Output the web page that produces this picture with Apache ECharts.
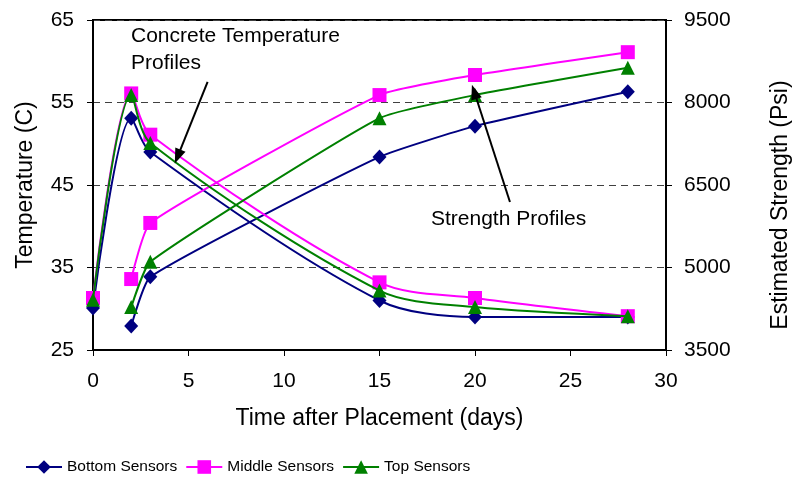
<!DOCTYPE html>
<html>
<head>
<meta charset="utf-8">
<script src="https://cdn.jsdelivr.net/npm/echarts@6/dist/echarts.min.js"></script>
<style>
html,body{margin:0;padding:0;background:#fff;}
#chart{width:796px;height:483px;}
</style>
</head>
<body>
<div id="chart"></div>
<script>
// ---- Data ----
var tempDays = [0, 2, 3, 15, 20, 28];
var bottomTemp = [30.1, 53.1, 49.0, 31.0, 29.0, 29.0];
var middleTemp = [31.3, 56.1, 51.1, 33.2, 31.3, 29.1];
var topTemp    = [31.1, 55.9, 50.1, 32.2, 30.2, 29.1];

var strengthDays = [2, 3, 15, 20, 28];
var bottomStrength = [3935, 4830, 7010, 7570, 8195];
var middleStrength = [4790, 5810, 8135, 8500, 8915];
var topStrength    = [4280, 5105, 7715, 8135, 8630];

var seriesNames = ['Bottom Sensors', 'Middle Sensors', 'Top Sensors'];
var xTicks = [0, 30, 5];
var tempTicks = [25, 65, 10];
var strengthTicks = [3500, 9500, 1500];

// annotation arrows [start, end] in (days, °C)
var arrowTemp = [[6.0, 57.5], [4.43, 48.45]];
var arrowStrength = [[21.83, 42.94], [19.96, 56.3]];

function pairs(xs, ys) { return xs.map(function (x, i) { return [x, ys[i]]; }); }

var colors = ['#000080', '#FF00FF', '#008000'];
var symbols = ['diamond', 'rect', 'triangle'];
var symbolSizes = [[14, 15], 14, 14];
var temps = [bottomTemp, middleTemp, topTemp];
var strengths = [bottomStrength, middleStrength, topStrength];

var series = [];
for (var i = 0; i < 3; i++) {
  series.push({
    name: seriesNames[i], type: 'line', xAxisIndex: 0, yAxisIndex: 0,
    data: pairs(tempDays, temps[i]), smooth: 0.3,
    symbol: symbols[i], symbolSize: symbolSizes[i], showAllSymbol: true,
    itemStyle: { color: colors[i] }, lineStyle: { color: colors[i], width: 2 },
    z: 2 + i
  });
}
for (var j = 0; j < 3; j++) {
  series.push({
    name: seriesNames[j], type: 'line', xAxisIndex: 0, yAxisIndex: 1,
    data: pairs(strengthDays, strengths[j]), smooth: 0.15,
    symbol: symbols[j], symbolSize: symbolSizes[j], showAllSymbol: true,
    itemStyle: { color: colors[j] }, lineStyle: { color: colors[j], width: 2 },
    z: 2 + j
  });
}
series.push({
  type: 'line', xAxisIndex: 0, yAxisIndex: 0, data: [], silent: true, z: 10,
  markLine: {
    silent: true, symbol: ['none', 'triangle'], symbolSize: [11, 15],
    label: { show: false },
    lineStyle: { color: '#000', width: 2, type: 'solid' },
    data: [
      [{ coord: arrowTemp[0] }, { coord: arrowTemp[1] }],
      [{ coord: arrowStrength[0] }, { coord: arrowStrength[1] }]
    ]
  }
});

var font = 'Arial, "Liberation Sans", Helvetica, sans-serif';
var chart = echarts.init(document.getElementById('chart'), null, { renderer: 'canvas' });
chart.setOption({
  animation: false,
  backgroundColor: '#fff',
  grid: { left: 93, right: 130, top: 20, bottom: 133, show: true, borderColor: '#000', borderWidth: 2 },
  legend: {
    data: seriesNames, left: 25, top: 459, padding: 0, itemWidth: 36, itemHeight: 17, itemGap: 8,
    textStyle: { fontFamily: '"Liberation Sans Narrow", "Arial Narrow", ' + font, fontSize: 15.5, color: '#000' }
  },
  xAxis: {
    type: 'value', min: xTicks[0], max: xTicks[1], interval: xTicks[2],
    name: 'Time after Placement (days)', nameLocation: 'middle', nameGap: 57,
    nameTextStyle: { fontFamily: font, fontSize: 23, color: '#000' },
    axisLine: { lineStyle: { color: '#000', width: 2 } },
    axisTick: { show: true, length: 6, lineStyle: { color: '#000', width: 1 } },
    axisLabel: { fontFamily: font, fontSize: 21, color: '#000', margin: 21 },
    splitLine: { show: false }
  },
  yAxis: [{
    type: 'value', min: tempTicks[0], max: tempTicks[1], interval: tempTicks[2],
    name: 'Temperature (C)', nameLocation: 'middle', nameGap: 56,
    nameTextStyle: { fontFamily: font, fontSize: 23, color: '#000' },
    axisLine: { show: true, lineStyle: { color: '#000', width: 2 } },
    axisTick: { show: true, length: 6, lineStyle: { color: '#000', width: 1 } },
    axisLabel: { fontFamily: font, fontSize: 21, color: '#000', margin: 19 },
    splitLine: { show: true, lineStyle: { color: '#404040', width: 1, type: [7, 5] } }
  }, {
    type: 'value', position: 'right', min: strengthTicks[0], max: strengthTicks[1], interval: strengthTicks[2],
    axisLine: { show: true, lineStyle: { color: '#000', width: 2 } },
    axisTick: { show: true, length: 6, lineStyle: { color: '#000', width: 1 } },
    axisLabel: { fontFamily: font, fontSize: 21, color: '#000', margin: 18,
      formatter: function (v) { return String(v); } },
    splitLine: { show: false }
  }],
  graphic: [
    { type: 'text', left: 131, top: 23, silent: true,
      style: { text: 'Concrete Temperature\nProfiles', fontFamily: font, fontSize: 21, lineHeight: 27, fill: '#000' } },
    { type: 'text', x: 431, y: 219, silent: true,
      style: { text: 'Strength Profiles', fontFamily: font, fontSize: 21, fill: '#000', textVerticalAlign: 'middle', verticalAlign: 'middle' } },
    { type: 'text', x: 781, y: 205, rotation: Math.PI / 2, silent: true,
      style: { text: 'Estimated Strength (Psi)', fontFamily: font, fontSize: 23, fill: '#000', align: 'center', verticalAlign: 'middle' } }
  ],
  series: series
});
</script>
</body>
</html>
